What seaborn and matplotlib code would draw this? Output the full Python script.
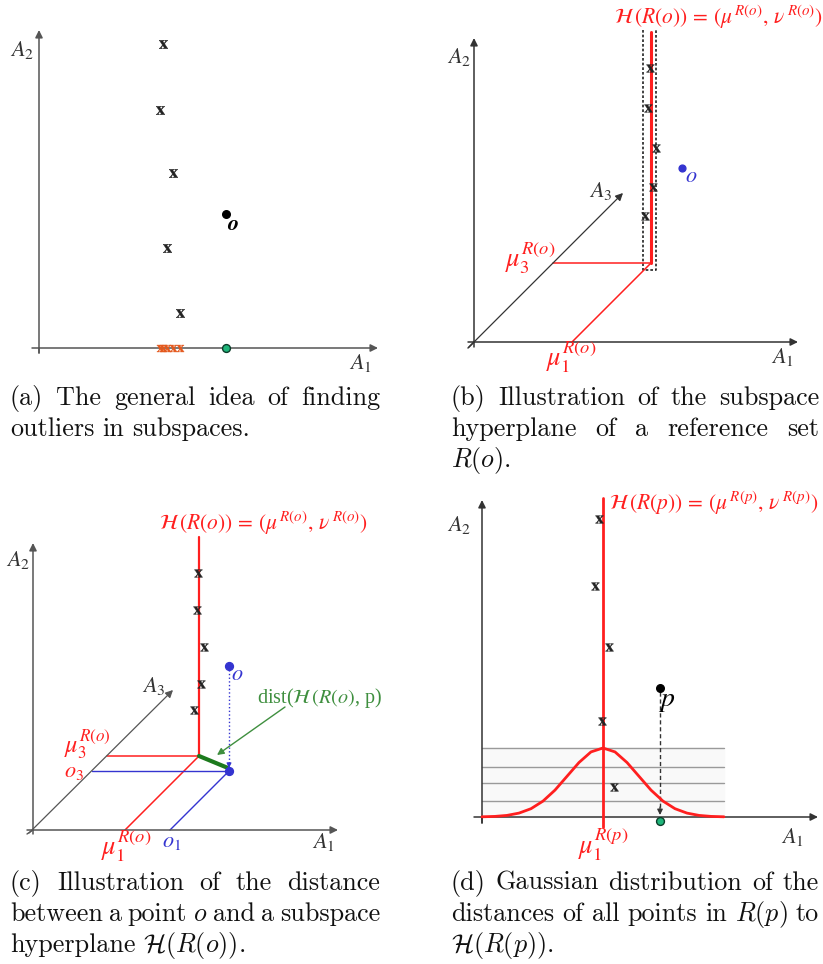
import numpy as np
import matplotlib
matplotlib.use("Agg")
import matplotlib.pyplot as plt
import seaborn as sns

sns.set_style("white")
plt.rcParams["mathtext.fontset"] = "stix"

RED = "#ff1f1f"
BLUE = "#3434d0"
GREEN = "#1d7a1d"
GREEN_LT = "#3f8f3f"
TEAL = "#1fb57a"
ORANGE = "#e4581c"

# panel (a): reference points and outlier o (local px, origin at axis cross)
a_x = [124, 121, 134, 128, 141]
a_y = [304, 238, 175, 100, 35]
a_o = [187, 134]

# panel (b): hyperplane of R(o)
b_mu1, b_mu3 = 98, 79
b_x = [176, 174, 182, 179, 171]
b_y = [274, 234, 194, 155, 126]
b_o = [208, 174]

# panel (c): distance between o and hyperplane
c_mu1, c_mu3 = 92, 74
c_o1, c_o3 = 137, 59
c_x = [165, 164, 171, 168, 161]
c_y = [257, 220, 183, 146, 120]
c_o_height = 105

# panel (d): gaussian of distances
d_mu = 121
d_x = [117, 113, 127, 120, 132]
d_y = [298, 231, 170, 96, 30]
d_p = [178, 129]
gauss_x = [0, 13, 25, 37, 49, 61, 73, 85, 97, 109, 121, 133, 145, 157,
           169, 181, 193, 205, 217, 229, 242]
gauss_y = [0.2, 0.6, 1.6, 3.9, 8.3, 15.9, 26.9, 40.7, 54.5, 65.1, 69, 65.1,
           54.5, 40.7, 26.9, 15.9, 8.3, 3.9, 1.6, 0.6, 0.2]
grid_levels = [16, 34, 50, 69]

captions = {
    "a": ["(a) The general idea of finding", "outliers in subspaces."],
    "b": ["(b) Illustration of the subspace", "hyperplane of a reference set",
          "$R(o)$."],
    "c": ["(c) Illustration of the distance",
          "between a point $o$ and a subspace",
          r"hyperplane $\mathcal{H}(R(o))$."],
    "d": ["(d) Gaussian distribution of the",
          "distances of all points in $R(p)$ to",
          r"$\mathcal{H}(R(p))$."],
}

W, H = 823, 964
fig = plt.figure(figsize=(W / 100, H / 100), dpi=100)


def panel(ox, oy):
    ax = fig.add_axes([0, 0, 1, 1])
    ax.set_xlim(-ox, W - ox)
    ax.set_ylim(oy - H, oy)
    ax.axis("off")
    ax.patch.set_alpha(0)
    return ax


def arrow(ax, p0, p1, color="#333333", lw=1.1, ms=11):
    ax.annotate("", xy=p1, xytext=p0,
                arrowprops=dict(arrowstyle="-|>", color=color, lw=lw,
                                mutation_scale=ms, shrinkA=0, shrinkB=0))


def label(ax, x, y, s, size=16, color="#333333", ha="center", **kw):
    ax.text(x, y, s, fontsize=size, color=color, ha=ha, va="center",
            math_fontfamily="stix", family="Liberation Serif", **kw)


def crosses(ax, xs, ys, color="#222222", s=38):
    sns.scatterplot(x=xs, y=ys, ax=ax, marker=r"$\mathbf{x}$", s=s,
                    color=color, edgecolor=color, linewidth=0.3,
                    legend=False, zorder=5)


def dots(ax, xs, ys, color, s=30, edge=None):
    sns.scatterplot(x=xs, y=ys, ax=ax, s=s, color=color,
                    edgecolor=edge or color, linewidth=1, legend=False,
                    zorder=6)


TITLE_O = r"$\mathcal{H}\,(R(o))\,=\,(\mu^{\,R(o)},\,\nu^{\,R(o)})$"
TITLE_P = r"$\mathcal{H}\,(R(p))\,=\,(\mu^{\,R(p)},\,\nu^{\,R(p)})$"

# ---------- (a)
ax = panel(39, 348)
ax.plot([0, 0], [-5, 0], color="#555555", lw=1.1)
arrow(ax, (0, -5), (0, 318), color="#555555")
arrow(ax, (-7, 0), (339, 0), color="#555555")
label(ax, -17, 298, "$A_2$")
label(ax, 321, -15, "$A_1$")
crosses(ax, a_x, a_y)
crosses(ax, a_x, [0] * len(a_x), color=ORANGE, s=26)
dots(ax, [a_o[0]], [a_o[1]], "black", s=30)
label(ax, a_o[0] + 7, a_o[1] - 11, r"$\boldsymbol{o}$", size=16,
      color="black")
dots(ax, [a_o[0]], [0], TEAL, s=32, edge="#0b3d2a")

# ---------- (b)
ax = panel(474, 342)
ax.plot([-6, 0], [-6, 0], color="#333333", lw=1.1)
arrow(ax, (0, -5), (0, 304))
arrow(ax, (-6, 0), (324, 0))
arrow(ax, (-5, -5), (149, 149), lw=0.9)
label(ax, -15, 285, "$A_2$")
label(ax, 308, -15, "$A_1$")
label(ax, 127, 151, "$A_3$")
cx, cy = b_mu1 + b_mu3, b_mu3
ax.plot([169, 169, 182, 182], [312, cy - 7, cy - 7, 312], color="#222222",
        lw=1.2, ls=(0, (1.6, 1.2)))
sns.lineplot(x=[cx, cx], y=[cy, 310], ax=ax, color=RED, lw=2.2,
             sort=False, estimator=None)
ax.plot([b_mu3, cx], [cy, cy], color=RED, lw=1.1)
ax.plot([b_mu1, cx], [0, cy], color=RED, lw=1.1)
crosses(ax, b_x, b_y, s=32)
dots(ax, [b_o[0]], [b_o[1]], BLUE, s=24)
label(ax, b_o[0] + 9, b_o[1] - 9, "$o$", size=16, color=BLUE)
label(ax, 81, 84, r"$\mu_3^{R(o)}$", size=19, color=RED, ha="right")
label(ax, 97, -15, r"$\mu_1^{R(o)}$", size=19, color=RED)
label(ax, 244, 325, TITLE_O, size=15.5, color=RED)

# ---------- (c)
ax = panel(33, 830)
ax.plot([-6, 0], [-4, 0], color="#555555", lw=1.0)
arrow(ax, (0, -4), (0, 287), color="#555555")
arrow(ax, (-6, 0), (305, 0), color="#555555")
arrow(ax, (-4, -3), (140, 140), lw=0.9, color="#555555")
label(ax, -15, 270, "$A_2$")
label(ax, 290, -12, "$A_1$")
label(ax, 121, 144, "$A_3$")
hx, hy = c_mu1 + c_mu3, c_mu3
px, py = c_o1 + c_o3, c_o3
sns.lineplot(x=[hx, hx], y=[hy, 293], ax=ax, color=RED, lw=1.6,
             sort=False, estimator=None)
ax.plot([c_mu3, hx], [hy, hy], color=RED, lw=1.1)
ax.plot([c_mu1, hx], [0, hy], color=RED, lw=1.1)
ax.plot([c_o3, px], [py, py], color=BLUE, lw=1.0)
ax.plot([c_o1, px], [0, py], color=BLUE, lw=1.0)
ax.plot([px, px], [py + c_o_height, py + 8], color=BLUE, lw=1.0, ls=":")
arrow(ax, (px, py + 8), (px, py + 3), color=BLUE, lw=0.8, ms=7)
ax.plot([hx, px - 1], [hy, py + 3], color=GREEN, lw=3)
arrow(ax, (252, 123), (184, 75), color=GREEN_LT, lw=1.0, ms=10)
dots(ax, [px, px], [py, py + c_o_height], BLUE, s=32)
crosses(ax, c_x, c_y, s=32)
label(ax, px + 8, py + c_o_height - 10, "$o$", size=16, color=BLUE)
label(ax, 224, 132, r"dist($\mathcal{H}\,(R(o)$, p)", size=14.5,
      color=GREEN_LT, ha="left")
label(ax, 78, 86, r"$\mu_3^{R(o)}$", size=17.5, color=RED, ha="right")
label(ax, 41, 57, "$o_3$", size=16, color=RED)
label(ax, 93, -16, r"$\mu_1^{R(o)}$", size=19, color=RED)
label(ax, 139, -13, "$o_1$", size=16, color=BLUE)
label(ax, 230, 307, TITLE_O, size=15.5, color=RED)

# ---------- (d)
ax = panel(482, 817)
ax.fill_between([0, 242], 0, grid_levels[-1], color="#f9f9f9", zorder=0)
for lvl in grid_levels:
    ax.plot([0, 242], [lvl, lvl], color="#9a9a9a", lw=1.0, zorder=1)
ax.plot([0, 0], [-6, 0], color="#333333", lw=1.1)
arrow(ax, (0, -6), (0, 317))
arrow(ax, (-8, 0), (336, 0))
label(ax, -23, 292, "$A_2$")
label(ax, 310, -20, "$A_1$")
sns.lineplot(x=gauss_x, y=gauss_y, ax=ax, color=RED, lw=2.0, sort=False,
             estimator=None, zorder=3)
ax.plot([d_mu, d_mu], [-10, 319], color=RED, lw=2.0, zorder=3)
crosses(ax, d_x, d_y, s=32)
ax.plot([d_p[0], d_p[0]], [d_p[1] - 4, 9], color="#333333", lw=1.0,
        ls=(0, (3, 2)))
arrow(ax, (d_p[0], 10), (d_p[0], 2), color="#333333", lw=0.9, ms=8)
dots(ax, [d_p[0]], [d_p[1]], "black", s=30)
dots(ax, [d_p[0]], [-4], TEAL, s=32, edge="#0b3d2a")
label(ax, d_p[0] + 7, d_p[1] - 13, "$p$", size=20, color="black")
label(ax, d_mu, -28, r"$\mu_1^{R(p)}$", size=19, color=RED)
label(ax, 127, 314, TITLE_P, size=15.5, color=RED, ha="left")

# ---------- captions, justified like the LaTeX subcaptions
cap = fig.add_axes([0, 0, 1, 1])
cap.set_xlim(0, W)
cap.set_ylim(H, 0)
cap.axis("off")
cap.patch.set_alpha(0)
renderer = fig.canvas.get_renderer()


def caption(lines, x0, x1, y0, size=18.8, step=31):
    for i, line in enumerate(lines):
        words = line.split(" ")
        texts = [cap.text(0, y0 + i * step, w, fontsize=size, family="cmr10",
                          math_fontfamily="cm", va="baseline", color="#111111")
                 for w in words]
        widths = [t.get_window_extent(renderer).width for t in texts]
        last = i == len(lines) - 1
        gap = 8 if last else (x1 - x0 - sum(widths)) / max(len(words) - 1, 1)
        x = x0
        for t, w in zip(texts, widths):
            t.set_x(x)
            x += w + gap


caption(captions["a"], 10, 380, 405)
caption(captions["b"], 451, 819, 405)
caption(captions["c"], 10, 380, 890)
caption(captions["d"], 451, 819, 890)

fig.savefig("out.png", dpi=100, facecolor="white")
